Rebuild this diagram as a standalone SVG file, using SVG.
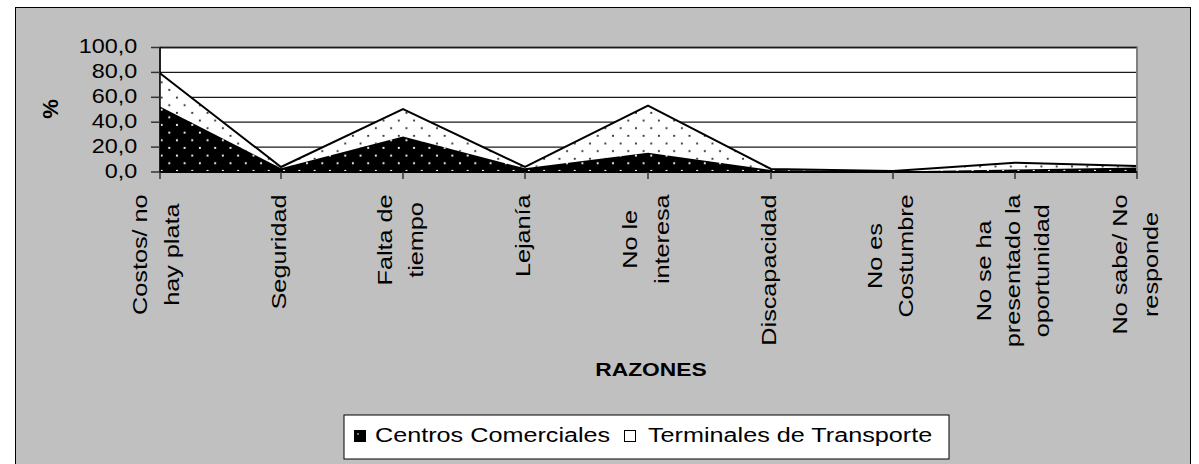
<svg xmlns="http://www.w3.org/2000/svg" width="1199" height="464" viewBox="0 0 1199 464">
<style>
text{font-family:"Liberation Sans",Arial,Helvetica,sans-serif;fill:#000}
.ax{font-size:19.5px}
.cat{font-size:21px}
.leg{font-size:21px}
.grid{stroke:#1a1a1a;stroke-width:1.3;fill:none}
.tick{stroke:#333;stroke-width:1.5;fill:none}
</style>
<defs>
<pattern id="pC" patternUnits="userSpaceOnUse" x="165.5" y="128.9" width="15.3" height="15.3">
<rect width="15.3" height="15.3" fill="#000"/>
<circle cx="3.8" cy="3.8" r="1.1" fill="#fff"/>
<circle cx="11.45" cy="11.45" r="1.1" fill="#fff"/>
</pattern>
<pattern id="pT" patternUnits="userSpaceOnUse" x="165.5" y="86.2" width="15.3" height="15.3">
<rect width="15.3" height="15.3" fill="#fff"/>
<circle cx="3.8" cy="3.8" r="1.1" fill="#333"/>
<circle cx="11.45" cy="11.45" r="1.1" fill="#333"/>
</pattern>
</defs>
<rect x="0" y="0" width="1199" height="464" fill="#fff"/>
<rect id="chartArea" x="15.5" y="7.5" width="1175" height="470" fill="#c0c0c0" stroke="#000" stroke-width="1"/>
<g id="plot">
<rect x="160" y="47.5" width="977" height="124.5" fill="#fff" stroke="#808080" stroke-width="2"/>
<g id="gridlines">
<line class="grid" x1="160" y1="47.5" x2="1137" y2="47.5" stroke="#808080"/>
<line class="grid" x1="160" y1="72.4" x2="1137" y2="72.4"/>
<line class="grid" x1="160" y1="97.3" x2="1137" y2="97.3"/>
<line class="grid" x1="160" y1="122.2" x2="1137" y2="122.2"/>
<line class="grid" x1="160" y1="147.1" x2="1137" y2="147.1"/>
</g>
<g id="series">
<polygon id="terminales" fill="url(#pT)" points="160,73.3 281,167 403,109 525,167 648,105.5 771,168.9 893,171 1015,162.7 1137,166 1137,167.6 1015,169.5 893,171.4 771,170.1 648,152.7 525,168.3 403,136.6 281,168.3 160,106.6"/>
<polygon id="centros" fill="url(#pC)" points="160,172 160,106.6 281,168.3 403,136.6 525,168.3 648,152.7 771,170.1 893,171.4 1015,169.5 1137,167.6 1137,172"/>
<polyline fill="none" stroke="#000" stroke-width="2" stroke-linejoin="miter" points="160,73.3 281,167 403,109 525,167 648,105.5 771,168.9 893,171 1015,162.7 1137,166"/>
</g>
<g id="axes">
<line x1="1137" y1="47.5" x2="1137" y2="172" stroke="#808080" stroke-width="2"/>
<line x1="160" y1="47" x2="160" y2="172" stroke="#000" stroke-width="1.5"/>
<line x1="159" y1="172" x2="1137" y2="172" stroke="#000" stroke-width="2"/>
<line class="tick" x1="151" y1="47.5" x2="160" y2="47.5"/>
<line class="tick" x1="151" y1="72.4" x2="160" y2="72.4"/>
<line class="tick" x1="151" y1="97.3" x2="160" y2="97.3"/>
<line class="tick" x1="151" y1="122.2" x2="160" y2="122.2"/>
<line class="tick" x1="151" y1="147.1" x2="160" y2="147.1"/>
<line class="tick" x1="151" y1="172" x2="160" y2="172"/>
<line class="tick" x1="160" y1="172" x2="160" y2="179"/>
<line class="tick" x1="281" y1="172" x2="281" y2="179"/>
<line class="tick" x1="403" y1="172" x2="403" y2="179"/>
<line class="tick" x1="525" y1="172" x2="525" y2="179"/>
<line class="tick" x1="648" y1="172" x2="648" y2="179"/>
<line class="tick" x1="771" y1="172" x2="771" y2="179"/>
<line class="tick" x1="893" y1="172" x2="893" y2="179"/>
<line class="tick" x1="1015" y1="172" x2="1015" y2="179"/>
<line class="tick" x1="1137" y1="172" x2="1137" y2="179"/>
</g>
</g>
<g id="yLabels" text-anchor="end">
<text class="ax" transform="translate(137.3,53) scale(1.2,1)">100,0</text>
<text class="ax" transform="translate(137.3,77.9) scale(1.2,1)">80,0</text>
<text class="ax" transform="translate(137.3,102.8) scale(1.2,1)">60,0</text>
<text class="ax" transform="translate(137.3,127.7) scale(1.2,1)">40,0</text>
<text class="ax" transform="translate(137.3,152.6) scale(1.2,1)">20,0</text>
<text class="ax" transform="translate(137.3,177.5) scale(1.2,1)">0,0</text>
</g>
<g id="yTitle">
<text transform="translate(58,109) rotate(-90)" text-anchor="middle" font-size="22" font-weight="bold">%</text>
</g>
<g id="xLabels" text-anchor="middle">
<g id="cat1" transform="translate(0,254.7) rotate(-90) scale(1.2,1)"><text class="cat" x="0" y="147.5">Costos/ no</text><text class="cat" x="0" y="179.5">hay plata</text></g>
<g id="cat2" transform="translate(0,252) rotate(-90) scale(1.2,1)"><text class="cat" x="0" y="286">Seguridad</text></g>
<g id="cat3" transform="translate(0,240) rotate(-90) scale(1.2,1)"><text class="cat" x="0" y="392">Falta de</text><text class="cat" x="0" y="423.5">tiempo</text></g>
<g id="cat4" transform="translate(0,235.8) rotate(-90) scale(1.2,1)"><text class="cat" x="0" y="530">Lejanía</text></g>
<g id="cat5" transform="translate(0,239.3) rotate(-90) scale(1.2,1)"><text class="cat" x="0" y="637.5">No le</text><text class="cat" x="0" y="669">interesa</text></g>
<g id="cat6" transform="translate(0,270) rotate(-90) scale(1.2,1)"><text class="cat" x="0" y="776.5">Discapacidad</text></g>
<g id="cat7" transform="translate(0,256) rotate(-90) scale(1.2,1)"><text class="cat" x="0" y="882.5">No es</text><text class="cat" x="0" y="913.5">Costumbre</text></g>
<g id="cat8" transform="translate(0,270.8) rotate(-90) scale(1.2,1)"><text class="cat" x="0" y="991">No se ha</text><text class="cat" x="0" y="1020">presentado la</text><text class="cat" x="0" y="1049">oportunidad</text></g>
<g id="cat9" transform="translate(0,264.5) rotate(-90) scale(1.2,1)"><text class="cat" x="0" y="1127">No sabe/ No</text><text class="cat" x="0" y="1158.5">responde</text></g>
</g>
<g id="xTitle">
<text transform="translate(651,376) scale(1.2,1)" text-anchor="middle" font-size="19" font-weight="bold">RAZONES</text>
</g>
<g id="legend">
<rect x="344" y="415" width="605" height="44" fill="#fff" stroke="#000" stroke-width="1"/>
<rect x="354.5" y="430.5" width="11" height="11" fill="#000" stroke="#000" stroke-width="1"/>
<circle cx="358" cy="434" r="0.8" fill="#fff"/>
<text class="leg" transform="translate(375,441.7) scale(1.2,1)">Centros Comerciales</text>
<rect x="624.5" y="430.5" width="11" height="11" fill="#fff" stroke="#000" stroke-width="1"/>
<text class="leg" transform="translate(648,441.7) scale(1.2,1)">Terminales de Transporte</text>
</g>
</svg>
